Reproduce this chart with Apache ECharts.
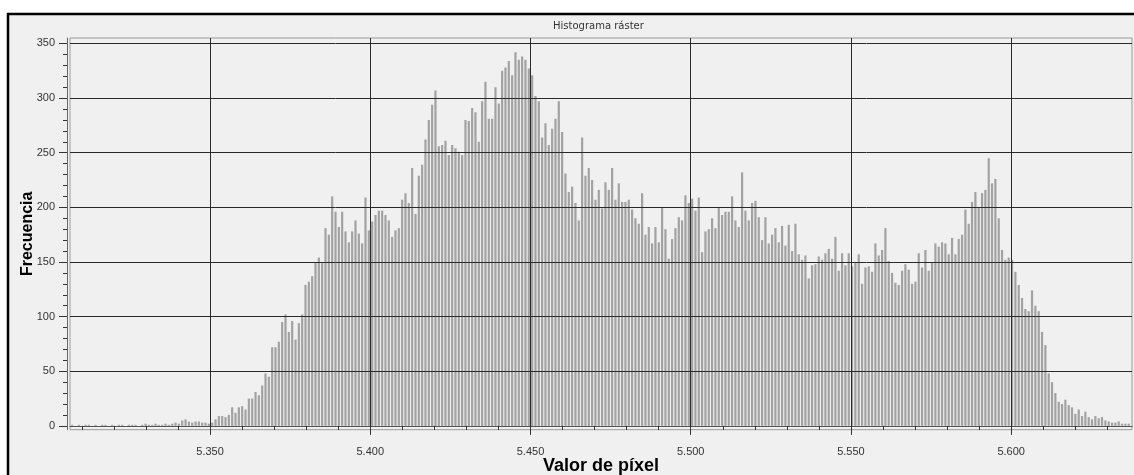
<!DOCTYPE html>
<html>
<head>
<meta charset="utf-8">
<title>Histograma ráster</title>
<script src="https://cdn.jsdelivr.net/npm/echarts@6/dist/echarts.min.js"></script>
<style>
  html, body { margin: 0; padding: 0; background: #ffffff; }
  #chart { width: 1134px; height: 475px; }
</style>
</head>
<body>
<div id="chart"></div>
<script>
// histogram bins: first bin centre and bin width (pixel value units)
const binStart = 5.30699;
const binWidth = 0.00104;

// counts, left to right
const countsLeftTail = [1, 0, 1, 0, 1, 1, 0, 1, 0, 1, 1, 0, 1, 0, 1, 1, 0, 1, 1, 1,
  0, 1, 2, 1, 1, 2, 1, 1, 2, 1, 2, 3, 2, 5, 6, 4, 3, 4, 4, 3, 3];
const countsRise = [2, 3, 6, 9, 9, 8, 10, 17, 12, 17, 18, 15, 25, 25, 31, 28, 37, 48, 45, 72,
  72, 77, 95, 102, 86, 96, 79, 94, 102, 129, 132, 137, 150, 154, 149, 181, 175, 210, 196, 182,
  196, 178, 168, 178, 188, 176, 167, 209, 179, 187, 193, 197, 197, 193, 188];
const countsPeak = [173, 179, 181, 207, 213, 204, 236, 194, 229, 239, 262, 280, 294, 307, 256,
  257, 261, 248, 257, 254, 251, 248, 280, 279, 291, 287, 260, 297, 315, 281, 281, 310, 295, 325,
  328, 334, 321, 342, 335, 338, 335, 327, 321, 302, 297];
const countsShoulder = [264, 277, 257, 272, 281, 297, 269, 231, 214, 219, 204, 188, 264, 229,
  236, 225, 207, 216, 199, 223, 216, 236, 207, 222, 205, 205, 207, 198, 190, 185, 213, 175, 182,
  167, 182, 168, 200, 180];
const countsPlateau = [153, 171, 181, 191, 188, 211, 204, 208, 197, 209, 159, 178, 180, 190,
  181, 200, 193, 196, 196, 210, 188, 182, 232, 197, 188, 204, 206, 191, 170, 191, 167, 175, 181,
  168, 183, 165, 184, 160, 185, 157, 152, 156, 135, 147, 148, 155, 152, 158, 162, 153, 173, 142,
  158, 147, 158, 146, 150, 157, 130, 145, 146, 141, 167, 156, 161, 181];
const countsRightTail = [151, 140, 131, 129, 142, 148, 143, 130, 132, 158, 145, 161, 142, 150,
  167, 164, 168, 167, 157, 172, 157, 171, 175, 198, 185, 205, 214, 200, 213, 216, 245, 222, 226,
  190, 161, 152, 154, 152, 141, 129, 117, 107, 105, 124, 110, 105, 86, 74, 48, 40, 30, 22, 20,
  24, 19, 17, 11, 15, 9, 13, 8, 6, 9, 7, 8, 5, 4, 3, 3, 4, 2, 2, 2];

const counts = [].concat(countsLeftTail, countsRise, countsPeak, countsShoulder,
  countsPlateau, countsRightTail);

// axis ticks
const xMajorTicks = [5.35, 5.40, 5.45, 5.50, 5.55, 5.60];
const xMinorTicks = [5.31, 5.32, 5.33, 5.34, 5.36, 5.37, 5.38, 5.39, 5.41, 5.42, 5.43, 5.44,
  5.46, 5.47, 5.48, 5.49, 5.51, 5.52, 5.53, 5.54, 5.56, 5.57, 5.58, 5.59, 5.61, 5.62, 5.63];
const yMajorTicks = [0, 50, 100, 150, 200, 250, 300, 350];
const yMinorTicks = [10, 20, 30, 40, 60, 70, 80, 90, 110, 120, 130, 140, 160, 170, 180, 190,
  210, 220, 230, 240, 260, 270, 280, 290, 310, 320, 330, 340];

const X_MIN = 5.3063;
const X_MAX = 5.6377;
const Y_MIN = -3.5;
const Y_MAX = 355;

const seriesData = counts.map((c, i) => [binStart + i * binWidth, c]);

const labelFont = { fontFamily: 'Liberation Sans', fontSize: 11, color: '#333333' };
const nameFont = { fontFamily: 'Liberation Sans', fontSize: 16, fontWeight: 'bold', color: '#000000' };

const chart = echarts.init(document.getElementById('chart'), null, { renderer: 'canvas' });

const option = {
  animation: false,
  backgroundColor: '#ffffff',
  graphic: [{
    type: 'rect',
    silent: true,
    z: -10,
    shape: { x: 8, y: 14, width: 1140, height: 470 },
    style: { fill: '#f0f0f0', stroke: '#000000', lineWidth: 2.5 }
  }],
  title: {
    text: 'Histograma ráster',
    left: 553,
    top: 21,
    padding: 0,
    textStyle: { fontFamily: 'DejaVu Sans', fontSize: 10, fontWeight: 'normal', color: '#333333' }
  },
  grid: {
    left: 70,
    right: 2,
    top: 38,
    bottom: 45.3,
    show: true,
    backgroundColor: 'transparent',
    borderColor: '#9a9a9a',
    borderWidth: 1,
    outerBoundsMode: 'none'
  },
  xAxis: [
    {
      type: 'value',
      min: X_MIN,
      max: X_MAX,
      position: 'bottom',
      offset: 5,
      z: 5,
      name: 'Valor de píxel',
      nameLocation: 'middle',
      nameGap: 22,
      nameMoveOverlap: false,
      nameTextStyle: Object.assign({}, nameFont, { fontSize: 18 }),
      axisLine: { show: true, lineStyle: { color: '#555555', width: 1 } },
      axisTick: { show: true, customValues: xMajorTicks, length: 9, lineStyle: { color: '#333333' } },
      axisLabel: Object.assign({ customValues: xMajorTicks, margin: 12, formatter: v => v.toFixed(3) }, labelFont),
      splitLine: { show: true, lineStyle: { color: '#2a2a2a', width: 1 } }
    },
    {
      type: 'value',
      min: X_MIN,
      max: X_MAX,
      position: 'bottom',
      offset: 5,
      z: 5,
      axisLine: { show: false },
      axisTick: { show: true, customValues: xMinorTicks, length: 4, lineStyle: { color: '#333333' } },
      axisLabel: { show: false },
      splitLine: { show: false }
    }
  ],
  yAxis: [
    {
      type: 'value',
      min: Y_MIN,
      max: Y_MAX,
      position: 'left',
      offset: 3,
      z: 5,
      name: 'Frecuencia',
      nameLocation: 'middle',
      nameGap: 31,
      nameMoveOverlap: false,
      nameTextStyle: nameFont,
      axisLine: { show: true, lineStyle: { color: '#666666', width: 1 } },
      axisTick: { show: true, customValues: yMajorTicks, length: 8, lineStyle: { color: '#333333' } },
      axisLabel: Object.assign({ customValues: yMajorTicks, margin: 12 }, labelFont),
      splitLine: { show: true, lineStyle: { color: '#2a2a2a', width: 1 } }
    },
    {
      type: 'value',
      min: Y_MIN,
      max: Y_MAX,
      position: 'left',
      offset: 3,
      z: 5,
      axisLine: { show: false },
      axisTick: { show: true, customValues: yMinorTicks, length: 4, lineStyle: { color: '#333333' } },
      axisLabel: { show: false },
      splitLine: { show: false }
    }
  ],
  series: [
    {
      name: 'Frecuencia',
      type: 'bar',
      xAxisIndex: 0,
      yAxisIndex: 0,
      barWidth: 2.2,
      z: 2,
      itemStyle: { color: '#a2a2a2' },
      data: seriesData
    }
  ]
};

chart.setOption(option);
window.addEventListener('resize', chart.resize);
</script>
</body>
</html>
